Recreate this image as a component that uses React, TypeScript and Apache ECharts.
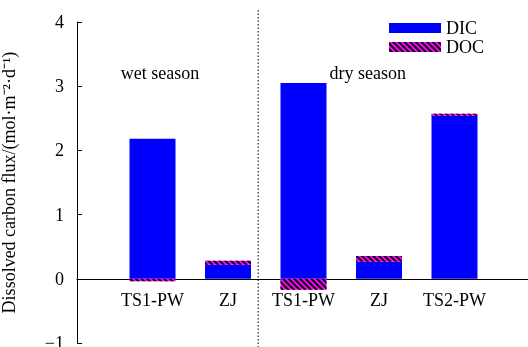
import React, { useEffect, useRef } from "react";
import * as echarts from "echarts";

const categories = ["", "TS1-PW", "ZJ", "TS1-PW", "ZJ", "TS2-PW", ""];
const dicValues: (number | null)[] = [null, 2.18, 0.22, 3.05, 0.265, 2.54, null];
const docValues: (number | null)[] = [null, -0.04, 0.06, -0.17, 0.09, 0.03, null];
const yTicks = { min: -1, max: 4, interval: 1 };
const seasonLabels = [
  { text: "wet season", at: 1.1 },
  { text: "dry season", at: 3.85 },
];
const dividerAt = 2.4;

const FONT = "'Times New Roman', 'Liberation Serif', serif";

export default function App() {
  const ref = useRef<HTMLDivElement>(null);
  useEffect(() => {
    if (!ref.current) return;
    const chart = echarts.init(ref.current, undefined, { renderer: "svg" });
    const gridLeft = 77;
    const gridTop = 22;
    const gridWidth = 453;
    const gridHeight = 321;
    const step = gridWidth / (categories.length - 1);
    const xPix = (i: number) => gridLeft + i * step;
    // distance from grid bottom (y = min) to the zero line
    const zeroOffset = (gridHeight * (0 - yTicks.min)) / (yTicks.max - yTicks.min);
    chart.setOption({
      animation: false,
      textStyle: { fontFamily: FONT, color: "#000" },
      grid: {
        left: gridLeft,
        top: gridTop,
        width: gridWidth,
        height: gridHeight,
        containLabel: false,
        outerBoundsMode: "none",
      },
      legend: {
        orient: "vertical",
        left: 389,
        top: 19,
        padding: 0,
        itemGap: 1,
        itemWidth: 52,
        itemHeight: 10,
        textStyle: { fontFamily: FONT, fontSize: 18, color: "#000" },
        data: [
          { name: "DIC", icon: "rect" },
          { name: "DOC", icon: "rect" },
        ],
      },
      xAxis: {
        type: "category",
        data: categories,
        boundaryGap: false,
        offset: -zeroOffset,
        axisLine: { onZero: false, lineStyle: { color: "#000", width: 1 } },
        axisTick: { show: false },
        axisLabel: { fontFamily: FONT, fontSize: 18, color: "#000", margin: 12, interval: 0 },
        splitLine: { show: false },
      },
      yAxis: {
        type: "value",
        min: yTicks.min,
        max: yTicks.max,
        interval: yTicks.interval,
        name: "Dissolved carbon flux/(mol·m⁻²·d⁻¹)",
        nameLocation: "middle",
        nameRotate: 90,
        nameGap: 59,
        nameTextStyle: { fontFamily: FONT, fontSize: 18, color: "#000" },
        axisLine: { show: true, onZero: false, lineStyle: { color: "#000", width: 1 } },
        axisTick: { show: true, inside: true, length: 5, lineStyle: { color: "#000" } },
        axisLabel: {
          fontFamily: FONT,
          fontSize: 18,
          color: "#000",
          margin: 13,
          formatter: (v: number) => (v < 0 ? "\u2212" + Math.abs(v) : String(v)),
        },
        splitLine: { show: false },
      },
      series: [
        {
          name: "DIC",
          type: "bar",
          stack: "flux",
          barWidth: 46,
          data: dicValues,
          itemStyle: { color: "#0000ff" },
        },
        {
          name: "DOC",
          type: "bar",
          stack: "flux",
          barWidth: 46,
          data: docValues,
          itemStyle: {
            color: "#ff00ff",
            decal: {
              symbol: "rect",
              symbolSize: 1,
              color: "#000",
              dashArrayX: [1, 0],
              dashArrayY: [1.5, 1.5],
              rotation: Math.PI / 4,
            },
          },
        },
      ],
      graphic: [
        {
          type: "line",
          shape: { x1: xPix(dividerAt), y1: 10, x2: xPix(dividerAt), y2: 347 },
          style: { stroke: "#000", lineWidth: 1, lineDash: [1.5, 2] },
        },
        ...seasonLabels.map((s) => ({
          type: "text",
          x: xPix(s.at),
          y: 73,
          style: {
            text: s.text,
            fontFamily: FONT,
            fontSize: 18,
            fill: "#000",
            textAlign: "center",
            textVerticalAlign: "middle",
          },
        })),
      ],
    });
    return () => chart.dispose();
  }, []);
  return (
    <div
      ref={ref}
      style={{ position: "fixed", left: 0, top: 0, width: 528, height: 347 }}
    />
  );
}
